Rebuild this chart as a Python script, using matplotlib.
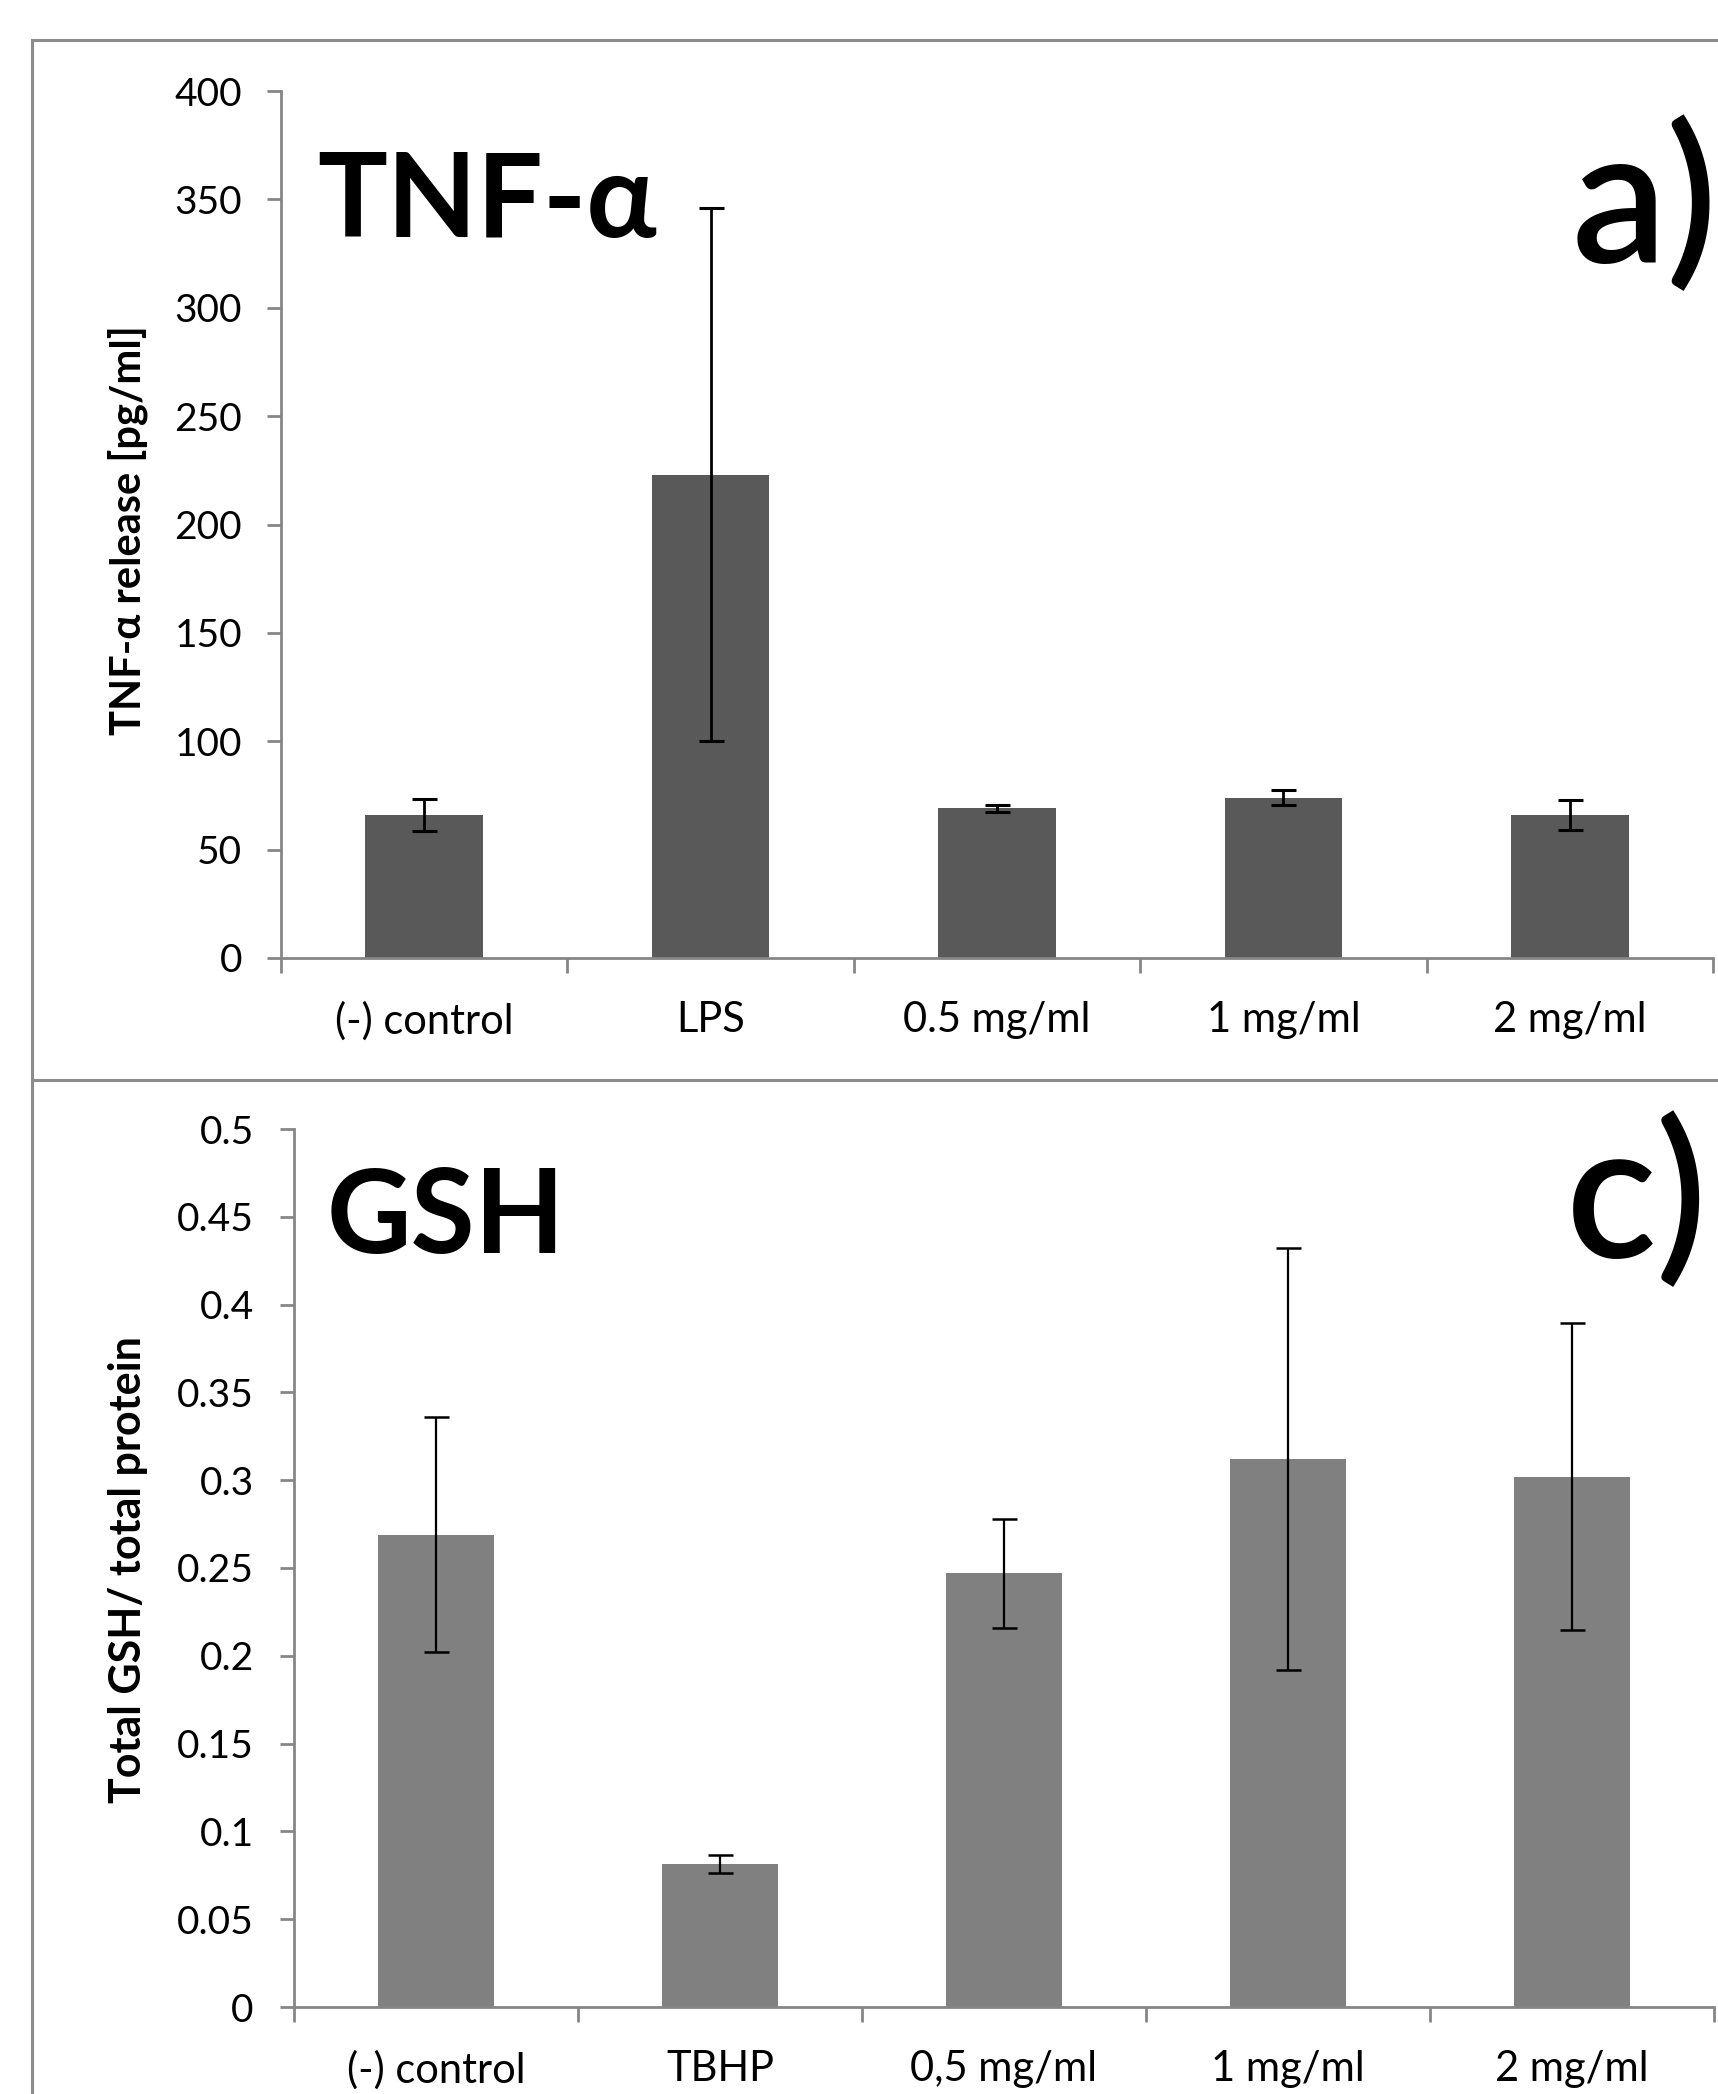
import matplotlib
matplotlib.use("Agg")
import matplotlib.pyplot as plt
from matplotlib.lines import Line2D
import numpy as np

# ---- data ----
tnf_categories = ["(-) control", "LPS", "0.5 mg/ml", "1 mg/ml", "2 mg/ml"]
tnf_values = [66, 223, 69, 74, 66]
tnf_errors = [7.5, 123, 1.5, 3.5, 7]
tnf_ticks = [0, 50, 100, 150, 200, 250, 300, 350, 400]

gsh_categories = ["(-) control", "TBHP", "0,5 mg/ml", "1 mg/ml", "2 mg/ml"]
gsh_values = [0.269, 0.0815, 0.247, 0.312, 0.302]
gsh_errors = [0.067, 0.005, 0.031, 0.12, 0.0875]
gsh_ticks = [0, 0.05, 0.1, 0.15, 0.2, 0.25, 0.3, 0.35, 0.4, 0.45, 0.5]
gsh_ticklabels = ["0", "0.05", "0.1", "0.15", "0.2", "0.25", "0.3", "0.35", "0.4", "0.45", "0.5"]

W, H = 1718, 2094
fig = plt.figure(figsize=(W / 100, H / 100), dpi=100)
FONT = ["Lato", "DejaVu Sans"]
plt.rcParams["font.family"] = FONT

AXC = "#868686"

def fx(px):
    return px / W

def fy(py):
    return 1 - py / H

# outer frame lines
for (x0, y0, x1, y1) in [(32, 40, W + 5, 40), (32, 40, 32, H + 5), (32, 1080, W + 5, 1080)]:
    fig.add_artist(Line2D([fx(x0), fx(x1)], [fy(y0), fy(y1)], color="#8c8c8c", lw=2.2,
                          transform=fig.transFigure))


def setup(ax, cats, ticks, ticklabels, ymax, ypad):
    n = len(cats)
    ax.set_xlim(-0.5, n - 0.5)
    ax.set_ylim(0, ymax)
    for s in ["top", "right"]:
        ax.spines[s].set_visible(False)
    for s in ["left", "bottom"]:
        ax.spines[s].set_color(AXC)
        ax.spines[s].set_linewidth(2.0)
    ax.set_xticks(np.arange(n))
    ax.set_xticklabels(cats, fontsize=30)
    ax.set_xticks(np.arange(n + 1) - 0.5, minor=True)
    ax.tick_params(axis="x", which="major", length=0, pad=31)
    ax.tick_params(axis="x", which="minor", length=11, width=2.0, color=AXC, direction="out")
    ax.set_yticks(ticks)
    ax.set_yticklabels(ticklabels, fontsize=28)
    ax.tick_params(axis="y", which="major", length=10, width=2.0, color=AXC, direction="out", pad=ypad)


# ---- top panel ----
ax1 = fig.add_axes([fx(281), fy(958), fx(1713) - fx(281), fy(91) - fy(958)])
x = np.arange(len(tnf_categories))
ax1.bar(x, tnf_values, width=0.41, color="#595959", zorder=2)
ax1.errorbar(x, tnf_values, yerr=tnf_errors, fmt="none", ecolor="black",
             elinewidth=2.0, capsize=9, capthick=2.2, zorder=3)
setup(ax1, tnf_categories, tnf_ticks, [str(t) for t in tnf_ticks], 400, 18)

# ---- bottom panel ----
ax2 = fig.add_axes([fx(294), fy(2007), fx(1714) - fx(294), fy(1129) - fy(2007)])
x2 = np.arange(len(gsh_categories))
ax2.bar(x2, gsh_values, width=0.405, color="#808080", zorder=2)
ax2.errorbar(x2, gsh_values, yerr=gsh_errors, fmt="none", ecolor="black",
             elinewidth=1.6, capsize=9, capthick=1.8, zorder=3)
setup(ax2, gsh_categories, gsh_ticks, gsh_ticklabels, 0.5, 19)

# ---- y labels ----
fig.text(fx(128), fy(530), "TNF-α release [pg/ml]", rotation=90, ha="center", va="center",
         fontsize=30, fontweight="bold", family=FONT)
fig.text(fx(128), fy(1570), "Total GSH/ total protein", rotation=90, ha="center", va="center",
         fontsize=31, fontweight="bold", family=FONT)

# ---- panel titles ----
fig.text(fx(317), fy(237), "TNF-α", ha="left", va="baseline", fontsize=84, fontweight="bold",
         family=FONT)
fig.text(fx(327), fy(1253), "GSH", ha="left", va="baseline", fontsize=84, fontweight="bold",
         family=FONT)
fig.text(fx(1572), fy(262), "a)", ha="left", va="baseline", fontsize=136, fontweight="semibold",
         family=FONT)
fig.text(fx(1566), fy(1258), "c)", ha="left", va="baseline", fontsize=136, fontweight="semibold",
         family=FONT)

fig.savefig("out.png", dpi=100, facecolor="white")
